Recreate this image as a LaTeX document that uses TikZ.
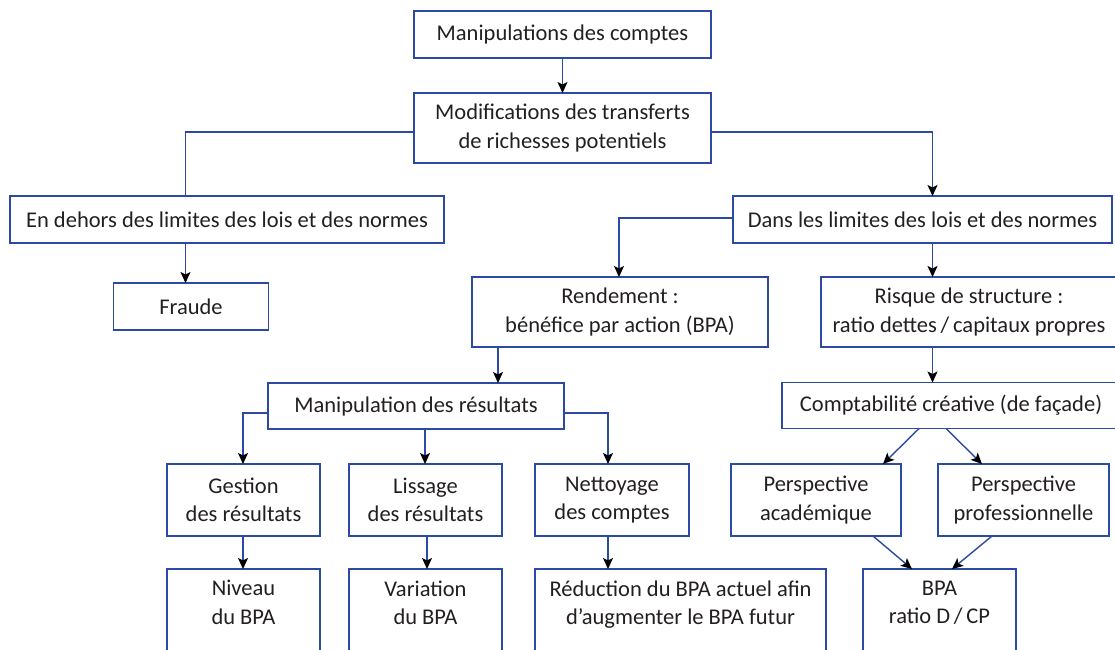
\documentclass[tikz,border=0pt]{standalone}
\usepackage{fontspec}
\setmainfont{Carlito}
\usetikzlibrary{arrows.meta,calc}
\definecolor{bluel}{RGB}{44,74,162}
\definecolor{textc}{RGB}{35,31,32}
\tikzset{
  box/.style={draw=bluel, line width=1.5pt, align=center, inner sep=0pt, outer sep=0pt,
    text=textc, font=\fontsize{22.5}{28.5}\selectfont},
  arr/.style={draw=bluel, line width=1.4pt,
    -{Stealth[length=11pt,width=10pt,inset=2.5pt,color=black]}},
  ln/.style={draw=bluel, line width=1.4pt},
}
\begin{document}
\begin{tikzpicture}[x=1pt,y=-1pt]
\useasboundingbox (0,0) rectangle (1115,649);
\clip (0,0) rectangle (1115,649);
\node[box, minimum width=297, minimum height=47] (top) at (562.5,34.5) {Manipulations des comptes};
\node[box, minimum width=297, minimum height=70] (mod) at (562.5,128) {Modifications des transferts\\de richesses potentiels};
\node[box, minimum width=434, minimum height=47] (hors) at (227,219.5) {En dehors des limites des lois et des normes};
\node[box, minimum width=155, minimum height=47] (fraude) at (191,306.5) {Fraude};
\node[box, minimum width=379, minimum height=47] (dans) at (922.5,219.5) {Dans les limites des lois et des normes};
\node[box, minimum width=296, minimum height=70] (rend) at (620,312) {Rendement :\\bénéfice par action (BPA)};
\node[box, minimum width=296, minimum height=70] (risque) at (969,312) {Risque de structure :\\ratio dettes\,/\,capitaux propres};
\node[box, minimum width=296, minimum height=46] (manres) at (416,406) {Manipulation des résultats};
\node[box, minimum width=338, minimum height=46] (comptab) at (951,405.5) {Comptabilité créative (de façade)};
\node[box, minimum width=153, minimum height=72] (gestion) at (243.5,500) {Gestion\\des résultats};
\node[box, minimum width=153, minimum height=72] (lissage) at (425.5,500) {Lissage\\des résultats};
\node[box, minimum width=154, minimum height=72] (nettoyage) at (612,500) {Nettoyage\\des comptes};
\node[box, minimum width=170, minimum height=72] (pacad) at (816,500) {Perspective\\académique};
\node[box, minimum width=171, minimum height=72] (pprof) at (1023.5,500) {Perspective\\professionnelle};
\node[box, minimum width=153, minimum height=104, anchor=north] (niveau) at (243.5,569) {Niveau\\du BPA\\\strut};
\node[box, minimum width=153, minimum height=104, anchor=north] (variation) at (425.5,569) {Variation\\du BPA\\\strut};
\node[box, minimum width=291, minimum height=104, anchor=north] (reduction) at (680.5,569) {Réduction du BPA actuel afin\\d’augmenter le BPA futur\\\strut};
\node[box, minimum width=153, minimum height=104, anchor=north] (bpa) at (939.5,569) {BPA\\ratio D\,/\,CP\\\strut};

\draw[arr] (top.south) -- (mod.north);
\draw[ln] ([yshift=-4]mod.west) -| ([xshift=-41.5]hors.north);
\draw[arr] ([xshift=-41.5]hors.south) -- ([xshift=-5.5]fraude.north);
\draw[arr] ([yshift=-4]mod.east) -| ([xshift=10]dans.north);
\draw[arr] ([yshift=1.5]dans.west) -| ([xshift=-1]rend.north);
\draw[arr] ([xshift=10]dans.south) -- ([xshift=-36.5]risque.north);
\draw[arr] ([xshift=-122]rend.south) -- ([xshift=82]manres.north);
\draw[arr] ([yshift=-7]manres.west) -| ([xshift=-0.5]gestion.north);
\draw[arr] ([xshift=9]manres.south) -- ([xshift=-0.5]lissage.north);
\draw[arr] ([yshift=-7]manres.east) -| ([xshift=-4]nettoyage.north);
\draw[arr] ([xshift=-0.5]gestion.south) -- ([xshift=-0.5]niveau.north);
\draw[arr] ([xshift=1.5]lissage.south) -- ([xshift=1.5]variation.north);
\draw[arr] ([xshift=-4]nettoyage.south) -- ([xshift=-72.5]reduction.north);
\draw[arr] ([xshift=-36.5]risque.south) -- ([xshift=-18.5]comptab.north);
\draw[arr] ([xshift=-32]comptab.south) -- ([xshift=67]pacad.north);
\draw[arr] ([xshift=-5]comptab.south) -- ([xshift=-41.5]pprof.north);
\draw[arr] ([xshift=57]pacad.south) -- ([xshift=-27.5]bpa.north);
\draw[arr] ([xshift=-31.5]pprof.south) -- ([xshift=12.5]bpa.north);
\end{tikzpicture}
\end{document}
